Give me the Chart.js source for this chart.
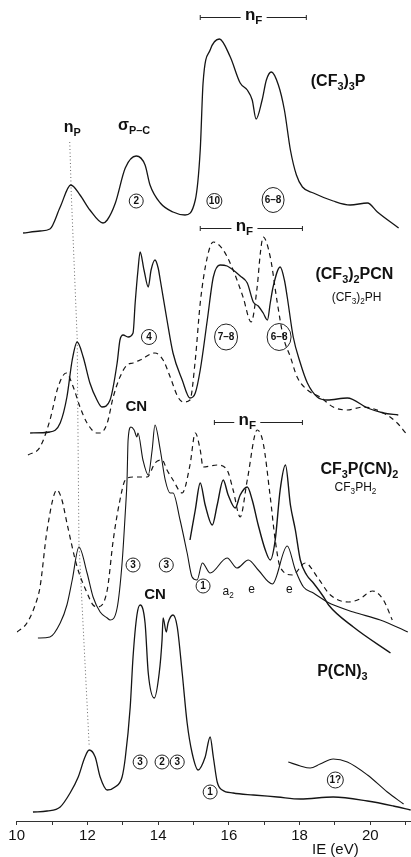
<!DOCTYPE html>
<html>
<head>
<meta charset="utf-8">
<script src="https://cdn.jsdelivr.net/npm/chart.js@4.4.0/dist/chart.umd.min.js"></script>
<style>
  html, body { margin: 0; padding: 0; background: #fff; }
  #wrap { width: 411px; height: 857px; }
</style>
</head>
<body>
<div id="wrap"><canvas id="pes"></canvas></div>
<script>
// tick labels on the IE axis
const ieLabels = [10, 12, 14, 16, 18, 20];

// (CF3)3P
const ie1 = [10.18,10.66,10.94,11.23,11.53,11.79,12.07,12.44,12.56,12.79,13.07,13.38,13.63,13.77,14.06,14.42,14.76,15.05,15.19,15.27,15.47,15.73,16.04,16.32,16.52,16.66,16.77,16.94,17.06,17.20,17.40,17.57,17.74,17.91,18.08,18.39,18.95,19.43,19.92,20.20,20.80];
const int1 = [2,4,6,28,50,40,25,12,15,32,67,79,70,50,32,23,20,35,85,152,185,196,178,152,145,135,116,135,155,163,150,125,85,60,48,42,34,30,32,23,7];

// (CF3)2PCN (solid) and (CF3)2PH (dashed)
const ie2 = [10.38,10.94,11.23,11.42,11.57,11.71,11.88,12.07,12.27,12.41,12.64,12.84,12.92,13.01,13.15,13.29,13.35,13.43,13.49,13.60,13.72,13.80,13.91,14.00,14.06,14.25,14.42,14.68,14.90,15.05,15.19,15.39,15.56,15.75,15.95,16.12,16.32,16.52,16.69,16.83,16.97,17.09,17.17,17.25,17.45,17.57,17.65,17.82,18.02,18.22,18.50,18.78,19.35,19.92,20.37,20.79];
const int2 = [2,3,12,38,75,93,78,52,35,28,35,72,95,100,98,102,132,165,183,165,148,165,175,167,155,115,82,55,37,42,65,115,158,170,169,165,159,152,133,129,122,115,132,148,168,155,138,98,72,52,38,35,37,27,22,20];
const ie2h = [10.32,10.66,10.94,11.17,11.40,11.60,11.79,11.99,12.27,12.36,12.56,12.73,12.92,13.12,13.29,13.49,13.91,14.14,14.34,14.56,14.71,14.90,15.05,15.19,15.39,15.56,15.84,16.12,16.40,16.63,16.80,16.89,16.97,17.17,17.37,17.54,17.74,17.93,18.22,18.58,18.95,19.35,19.80,20.37,20.76,21.00];
const int2h = [0,8,35,68,82,68,48,32,22,22,32,58,78,90,92,95,102,95,78,58,53,55,95,152,198,213,205,185,158,133,168,202,218,198,152,118,98,78,65,58,48,45,48,42,32,22];

// CF3P(CN)2 (solid), its expanded n_F trace, and CF3PH2 (dashed)
const ie3 = [10.60,10.94,11.23,11.42,11.57,11.76,11.99,12.16,12.36,12.56,12.64,12.84,12.98,13.07,13.12,13.15,13.23,13.32,13.40,13.43,13.57,13.72,13.83,13.91,14.06,14.20,14.34,14.42,14.62,14.82,14.96,15.10,15.25,15.47,15.95,16.23,16.55,16.83,17.23,17.65,17.88,18.11,18.39,18.78,19.52,20.28,21.06];
const int3 = [17,18,32,50,75,108,82,58,43,37,35,47,92,142,175,215,228,225,218,222,195,180,205,230,205,175,162,162,135,102,78,75,92,82,97,87,95,85,71,109,85,68,62,53,43,35,23];
const ie3x = [14.90,15.05,15.19,15.33,15.53,15.67,15.84,15.98,16.18,16.32,16.52,16.66,16.83,17.03,17.17,17.31,17.45,17.60,17.74,17.88,18.02,18.20,18.39,18.68,18.82,19.52,20.57];
const int3x = [115,145,172,150,130,150,175,160,147,160,168,155,130,105,95,115,165,190,150,125,95,80,72,58,50,28,2];
const ie3h = [10.01,10.29,10.57,10.66,10.86,11.14,11.28,11.42,11.71,11.99,12.16,12.30,12.56,12.73,12.92,13.07,13.29,13.69,13.91,14.11,14.25,14.42,14.68,14.90,15.05,15.19,15.27,15.67,15.95,16.12,16.32,16.52,16.80,16.97,17.17,17.31,17.45,17.80,18.16,18.50,18.87,19.38,19.70,20.06,20.37,20.62];
const int3h = [3,12,35,48,105,145,135,112,68,42,30,28,45,95,135,155,158,158,172,175,165,155,142,170,202,185,168,170,165,145,118,155,205,192,138,95,68,60,72,58,40,33,36,44,35,15];

// P(CN)3 and its expanded high-IE trace
const ie4 = [10.46,10.86,11.23,11.51,11.74,11.93,12.05,12.22,12.36,12.56,12.78,12.98,13.07,13.21,13.29,13.40,13.49,13.63,13.72,13.89,14.03,14.11,14.14,14.23,14.28,14.42,14.54,14.68,14.82,14.96,15.13,15.33,15.47,15.56,15.67,15.81,16.12,16.69,17.37,18.02,18.95,19.92,20.65,21.14];
const int4 = [0,1,5,19,35,55,62,55,35,22,25,35,54,105,155,197,207,189,139,114,139,172,194,180,189,197,185,139,89,59,42,55,75,55,30,22,19,17,15,13,15,11,6,2];
const ie4x = [17.68,18.02,18.30,18.58,18.95,19.35,19.92,20.48,20.94];
const int4x = [50,46,44,48,53,50,37,20,8];

// vertical stacking of the spectra
const offsets = { s1: 586, s2: 386, s2h: 366, s3: 166, s3x: 166, s3h: 186, s4: 9 };

function pts(ie, inten, off) {
  return ie.map((x, i) => ({ x: x, y: inten[i] + off }));
}

function firstPeak(ie, inten, off) {
  let best = 0;
  ie.forEach((x, i) => { if (x < 12.3 && inten[i] > inten[best]) best = i; });
  return { x: ie[best], y: inten[best] + off };
}

function trace(data, dash, width) {
  return {
    data: data,
    borderColor: '#151515',
    borderWidth: width || 1.3,
    borderDash: dash || [],
    pointRadius: 0,
    fill: false,
    cubicInterpolationMode: 'monotone'
  };
}

// dotted n_P guide joining the first band of each spectrum
const peaks = [
  firstPeak(ie1, int1, offsets.s1),
  firstPeak(ie2, int2, offsets.s2),
  firstPeak(ie3, int3, offsets.s3),
  firstPeak(ie4, int4, offsets.s4)
];
const guide = [{ x: peaks[0].x - 0.03, y: peaks[0].y + 43 }, { x: peaks[0].x, y: peaks[0].y + 8 }];
guide.push({ x: peaks[0].x + 0.01, y: peaks[0].y - 6 });
peaks.slice(1).forEach(p => guide.push({ x: p.x, y: p.y + 4 }));

function drawRich(ctx, str, cx, cy, size, weight) {
  const parts = [];
  let i = 0;
  while (i < str.length) {
    if (str[i] === '_') {
      if (str[i + 1] === '{') {
        const end = str.indexOf('}', i);
        parts.push([str.slice(i + 2, end), true]);
        i = end + 1;
      } else {
        parts.push([str[i + 1], true]);
        i += 2;
      }
    } else {
      let j = i;
      while (j < str.length && str[j] !== '_') j++;
      parts.push([str.slice(i, j), false]);
      i = j;
    }
  }
  const font = s => weight + ' ' + s + 'px "Liberation Sans", Arial, sans-serif';
  let w = 0;
  parts.forEach(p => { ctx.font = font(p[1] ? size * 0.68 : size); w += ctx.measureText(p[0]).width; });
  let xx = cx - w / 2;
  ctx.textAlign = 'left';
  ctx.textBaseline = 'middle';
  parts.forEach(p => {
    const s = p[1] ? size * 0.68 : size;
    ctx.font = font(s);
    ctx.fillText(p[0], xx, cy + (p[1] ? size * 0.33 : 0));
    xx += ctx.measureText(p[0]).width;
  });
}

// n_F brackets: [from, to, level, label centre]
const brackets = [[15.19, 18.19, 804, 16.70], [15.19, 18.08, 593, 16.44], [15.59, 18.08, 399, 16.52]];
// compound names: [text, ie, level, size, weight]
const names = [
  ['(CF_3)_3P', 19.09, 739, 16, 'bold'],
  ['(CF_3)_2PCN', 19.55, 546, 16, 'bold'],
  ['(CF_3)_2PH', 19.61, 523, 12, 'normal'],
  ['CF_3P(CN)_2', 19.69, 351, 16, 'bold'],
  ['CF_3PH_2', 19.58, 333, 12, 'normal'],
  ['P(CN)_3', 19.21, 149, 16, 'bold'],
  ['CN', 13.38, 414, 15, 'bold'],
  ['CN', 13.91, 226, 15, 'bold'],
  ['n_P', 11.57, 693, 16, 'bold'],
  ['\u03c3_{P\u2013C}', 13.32, 695, 16, 'bold'],
  ['a_2', 15.98, 229, 12, 'normal'],
  ['e', 16.64, 231, 12, 'normal'],
  ['e', 17.71, 231, 12, 'normal'],
  ['IE (eV)', 19.01, -29, 15, 'normal']
];
// circled band counts: [text, ie, level, radius]
const counts = [
  ['2', 13.38, 620, 7], ['10', 15.59, 620, 7.5], ['6\u20138', 17.25, 621, 11],
  ['4', 13.74, 484, 7.5], ['7\u20138', 15.92, 484, 11.5], ['6\u20138', 17.42, 484, 12],
  ['3', 13.29, 256, 7], ['3', 14.23, 256, 7], ['1', 15.27, 235, 7],
  ['3', 13.49, 59, 7], ['2', 14.11, 59, 7], ['3', 14.54, 59, 7], ['1', 15.47, 29, 7],
  ['1?', 19.01, 41, 8]
];

const notes = {
  id: 'notes',
  afterDatasetsDraw(chart) {
    const ctx = chart.ctx;
    const sx = chart.scales.x, sy = chart.scales.y;
    const px = v => sx.getPixelForValue(v);
    const py = v => sy.getPixelForValue(v);
    ctx.save();
    ctx.fillStyle = '#111';
    ctx.strokeStyle = '#222';
    ctx.lineWidth = 1;
    brackets.forEach(b => {
      const y = Math.round(py(b[2])) + 0.5;
      const c = px(b[3]);
      ctx.beginPath();
      ctx.moveTo(px(b[0]), y); ctx.lineTo(c - 13, y);
      ctx.moveTo(c + 13, y); ctx.lineTo(px(b[1]), y);
      ctx.moveTo(px(b[0]), y - 2.5); ctx.lineTo(px(b[0]), y + 2.5);
      ctx.moveTo(px(b[1]), y - 2.5); ctx.lineTo(px(b[1]), y + 2.5);
      ctx.stroke();
      drawRich(ctx, 'n_F', c, y - 2, 17, 'bold');
    });
    names.forEach(n => drawRich(ctx, n[0], px(n[1]), py(n[2]), n[3], n[4]));
    counts.forEach(c => {
      const x = px(c[1]), y = py(c[2]);
      ctx.beginPath();
      ctx.ellipse(x, y, c[3], c[3] + (c[3] > 10 ? 1.5 : 0), 0, 0, Math.PI * 2);
      ctx.stroke();
      ctx.font = 'bold 10px "Liberation Sans", Arial, sans-serif';
      ctx.textAlign = 'center';
      ctx.textBaseline = 'middle';
      ctx.fillText(c[0], x, y + 0.5);
    });
    ctx.restore();
  }
};

new Chart(document.getElementById('pes'), {
  type: 'line',
  data: {
    datasets: [
      trace(pts(ie1, int1, offsets.s1)),
      trace(pts(ie2, int2, offsets.s2)),
      trace(pts(ie2h, int2h, offsets.s2h), [5, 4], 1.2),
      trace(pts(ie3, int3, offsets.s3), [], 1.1),
      trace(pts(ie3x, int3x, offsets.s3x), [], 1.4),
      trace(pts(ie3h, int3h, offsets.s3h), [5, 4], 1.2),
      trace(pts(ie4, int4, offsets.s4)),
      trace(pts(ie4x, int4x, offsets.s4), [], 1.1),
      { data: guide, borderColor: '#666', borderWidth: 1, borderDash: [1, 2.5], pointRadius: 0, tension: 0 }
    ]
  },
  options: {
    responsive: true,
    maintainAspectRatio: false,
    animation: false,
    layout: { padding: { left: 16.7, right: 0, top: 0, bottom: 0 } },
    plugins: { legend: { display: false }, tooltip: { enabled: false } },
    scales: {
      x: {
        type: 'linear',
        min: 10,
        max: 21.15,
        afterFit: s => { s.height = 36; },
        border: { display: true, color: '#333', width: 1 },
        grid: { display: true, drawOnChartArea: false, drawTicks: true, tickLength: 4, color: '#333' },
        ticks: {
          stepSize: 1,
          includeBounds: false,
          autoSkip: false,
          maxRotation: 0,
          padding: 2,
          color: '#111',
          font: { family: '"Liberation Sans", Arial, sans-serif', size: 15 },
          callback: v => ieLabels.includes(v) ? String(v) : ''
        }
      },
      y: { display: false, min: 0, max: 821 }
    }
  },
  plugins: [notes]
});
</script>
</body>
</html>
